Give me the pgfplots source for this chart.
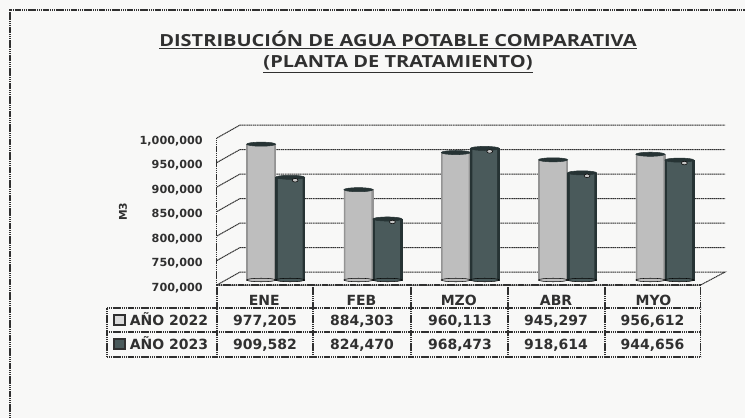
\documentclass[border=0pt]{standalone}
\usepackage{fontspec}
\setmainfont{DejaVu Sans}
\newfontfamily\titlefont{Open Sans}
\usepackage{pgfplots}
\usepackage{pgfplotstable}
\pgfplotsset{compat=1.18}

% 1 reference pixel = 0.75pt, y counted up from the bottom of the page
\newcommand{\px}{0.75pt}
\definecolor{paper}{HTML}{F8F8F7}
\definecolor{ink}{HTML}{303030}
\definecolor{lightbar}{HTML}{BEBEBE}
\definecolor{lightedge}{HTML}{949494}
\definecolor{darkbar}{HTML}{4A5A5B}
\definecolor{darkedge}{HTML}{263334}

\pgfplotstableread{
x y2022 y2023
0 977205 909582
1 884303 824470
2 960113 968473
3 945297 918614
4 956612 944656
}\distdata

\pgfplotsset{
  wall/.style={ink, line width=0.75pt, dash pattern=on 1pt off 0.4pt, no marks, forget plot},
}
\tikzset{scan/.style={ink, line width=0.8pt, dash pattern=on 1pt off 0.4pt}}

\begin{document}
\begin{tikzpicture}[x=\px,y=\px]
\path[use as bounding box, fill=paper] (0,0) rectangle (745,418);
\draw[scan] (10,0) -- (10,408) -- (745,408);

\node[font=\titlefont\bfseries\fontsize{12.5}{15}\selectfont, ink, inner sep=0pt, xscale=1.2] at (398,378) {\underline{DISTRIBUCIÓN DE AGUA POTABLE COMPARATIVA}};
\node[font=\titlefont\bfseries\fontsize{12.5}{15}\selectfont, ink, inner sep=0pt, xscale=1.2] at (398,354) {\underline{(PLANTA DE TRATAMIENTO)}};

\begin{axis}[
    at={(170.25pt,103.5pt)}, anchor=south west,
    scale only axis, width=364.9pt, height=110.25pt,
    xmin=-0.5, xmax=4.5,
    ymin=700000, ymax=1000000,
    clip=false,
    axis line style={draw=none},
    major tick length=0pt,
    scaled y ticks=false,
    ytick={700000,750000,800000,850000,900000,950000,1000000},
    yticklabels={{700,000},{750,000},{800,000},{850,000},{900,000},{950,000},{1,000,000}},
    yticklabel style={font=\bfseries\fontsize{8.4}{10}\selectfont, text=ink, inner sep=0pt, anchor=east, xshift=-18pt, yshift=-6pt},
    xtick={0,1,2,3,4},
    xticklabels={ENE,FEB,MZO,ABR,MYO},
    xticklabel style={font=\bfseries\fontsize{10.5}{12}\selectfont, text=ink, inner sep=0pt, anchor=center, xshift=-8.6pt, yshift=-15pt},
    every axis y label/.style={at={(axis description cs:-0.214,0.463)}, rotate=90, anchor=center},
    ylabel={M3},
    ylabel style={font=\bfseries\fontsize{8}{9}\selectfont, text=ink},
]
% walls: front edge, side and back wall of the 3D box
\addplot[wall] coordinates {(-0.603,689796) (-0.366,716327) (4.619,716327) (4.367,689796) (-0.603,689796)};
\addplot[wall] coordinates {(-0.603,739796) (-0.366,766327) (4.619,766327)};
\addplot[wall] coordinates {(-0.603,789796) (-0.366,816327) (4.619,816327)};
\addplot[wall] coordinates {(-0.603,839796) (-0.366,866327) (4.619,866327)};
\addplot[wall] coordinates {(-0.603,889796) (-0.366,916327) (4.619,916327)};
\addplot[wall] coordinates {(-0.603,939796) (-0.366,966327) (4.619,966327)};
\addplot[wall] coordinates {(-0.603,989796) (-0.366,1016327) (4.619,1016327)};
\addplot[wall] coordinates {(-0.603,689796) (-0.603,989796)};

% AÑO 2022: outer bar for the dark rim, inner bar for the lit face
\addplot[ybar, bar width=21.75pt, bar shift=-10.9pt, draw=lightedge, fill=lightedge, forget plot]
  table[x=x, y=y2022] {\distdata};
\addplot[ybar, bar width=19.5pt, bar shift=-10.9pt, draw=none, fill=lightbar, forget plot]
  table[x=x, y=y2022] {\distdata};
\addplot[only marks, mark=*, mark size=10.9pt, mark options={yscale=0.12, fill=lightbar, draw=none}, forget plot]
  table[x expr=\thisrow{x}-0.149, y expr=700000] {\distdata};
\addplot[only marks, mark=*, mark size=10.9pt, mark options={yscale=0.14, fill=darkedge, draw=darkedge}, forget plot]
  table[x expr=\thisrow{x}-0.149, y=y2022] {\distdata};

% AÑO 2023
\addplot[ybar, bar width=21.75pt, bar shift=10.9pt, draw=darkedge, fill=darkedge, forget plot]
  table[x=x, y=y2023] {\distdata};
\addplot[ybar, bar width=18.5pt, bar shift=10.9pt, draw=none, fill=darkbar, forget plot]
  table[x=x, y=y2023] {\distdata};
\addplot[only marks, mark=*, mark size=10.9pt, mark options={yscale=0.12, fill=darkbar, draw=none}, forget plot]
  table[x expr=\thisrow{x}+0.149, y expr=700000] {\distdata};
\addplot[only marks, mark=*, mark size=10.9pt, mark options={yscale=0.14, fill=darkedge, draw=darkedge}, forget plot]
  table[x expr=\thisrow{x}+0.149, y=y2023] {\distdata};
% small highlight near the top of the dark bars
\addplot[only marks, mark=*, mark size=2.2pt, mark options={yscale=0.6, fill=gray!45, draw=none}, forget plot]
  table[x expr=\thisrow{x}+0.2, y expr=\thisrow{y2023}-6000] {\distdata};
\end{axis}

% data table under the plot
\begin{scope}[scan]
\draw (217,133) -- (700.6,133);
\draw (107,110) -- (700.6,110);
\draw (107,86) -- (700.6,86);
\draw (107,61) -- (700.6,61);
\draw (107,61) -- (107,110);
\draw (217,61) -- (217,133);
\draw (313,61) -- (313,133);
\draw (411,61) -- (411,133);
\draw (508,61) -- (508,133);
\draw (605,61) -- (605,133);
\draw (700.6,61) -- (700.6,133);
\end{scope}
\fill[lightbar!50!paper, draw=ink, line width=0.9pt] (114,93) rectangle (125,103);
\fill[darkbar, draw=ink, line width=0.9pt] (114,69) rectangle (125,79);
\begin{scope}[font=\bfseries\fontsize{10.5}{12}\selectfont, text=ink, inner sep=0pt]
\node[anchor=base west] at (129.5,93) {AÑO 2022};
\node[anchor=base west] at (129.5,69) {AÑO 2023};
\node[anchor=base] at (265,93) {977,205};
\node[anchor=base] at (362,93) {884,303};
\node[anchor=base] at (460,93) {960,113};
\node[anchor=base] at (556,93) {945,297};
\node[anchor=base] at (652.5,93) {956,612};
\node[anchor=base] at (265,69) {909,582};
\node[anchor=base] at (362,69) {824,470};
\node[anchor=base] at (460,69) {968,473};
\node[anchor=base] at (556,69) {918,614};
\node[anchor=base] at (652.5,69) {944,656};
\end{scope}
\end{tikzpicture}
\end{document}
